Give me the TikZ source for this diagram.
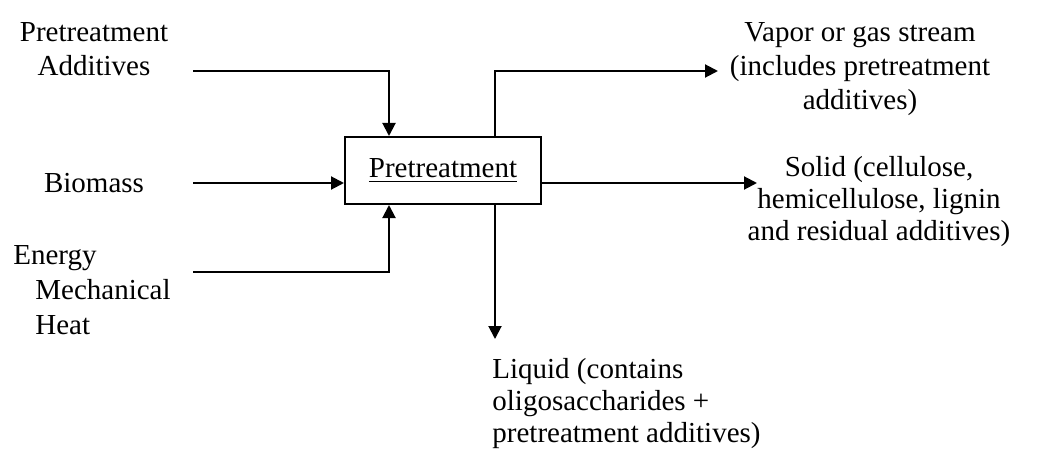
\documentclass[tikz,border=0pt]{standalone}
\usepackage{fontspec}
\setmainfont{Liberation Serif}
\usetikzlibrary{arrows.meta}
\begin{document}
\begin{tikzpicture}[x=0.5pt,y=-0.5pt,
  lbl/.style={inner sep=0pt,font=\fontsize{14.5}{17}\selectfont},
  arr/.style={line width=1pt,-{Triangle[length=6.5pt,width=6.5pt]}},
  procbox/.style={draw,line width=1pt,minimum width=98pt,minimum height=33.5pt,inner sep=0pt,font=\fontsize{14.5}{17}\selectfont}]
\useasboundingbox (0,0) rectangle (1044,449);
\node[procbox] (box) at (443,170.5) {\raisebox{1.5pt}{\underline{Pretreatment}}\hspace{4pt}};
% start / end coordinates
\coordinate (s1) at (193,71);
\coordinate (s2) at (193,183);
\coordinate (s3) at (193,272);
\coordinate (e1) at (718,71);
\coordinate (e2) at (757,183);
\coordinate (e3) at (495,339);
% labels
\node[lbl,align=center] (ladd) at (94,49) {Pretreatment\\Additives};
\node[lbl] (lbio) at (94,183) {Biomass};
\node[lbl,align=left,anchor=west,font=\fontsize{14.5}{17.5}\selectfont] (leng) at (13,290) {Energy\\\hspace{11pt}Mechanical\\\hspace{11pt}Heat};
\node[lbl,align=center] (lvap) at (860,69) {Vapor or gas stream\\(includes pretreatment\\additives)};
\node[lbl,align=center,font=\fontsize{14.5}{16}\selectfont] (lsol) at (879,202) {Solid (cellulose,\\hemicellulose, lignin\\and residual additives)};
\node[lbl,align=left,anchor=west,font=\fontsize{14.5}{16}\selectfont] (lliq) at (492,404) {Liquid (contains\\oligosaccharides +\\pretreatment additives)};
% connectors
\draw[arr] (s1) -| ([xshift=-27pt]box.north);
\draw[arr] (s2) -- (s2 -| box.west);
\draw[arr] (s3) -| ([xshift=-27pt]box.south);
\draw[arr] ([xshift=26pt]box.north) |- (e1);
\draw[arr] (box.east |- e2) -- (e2);
\draw[arr] ([xshift=26pt]box.south) -- (e3);
\end{tikzpicture}
\end{document}
